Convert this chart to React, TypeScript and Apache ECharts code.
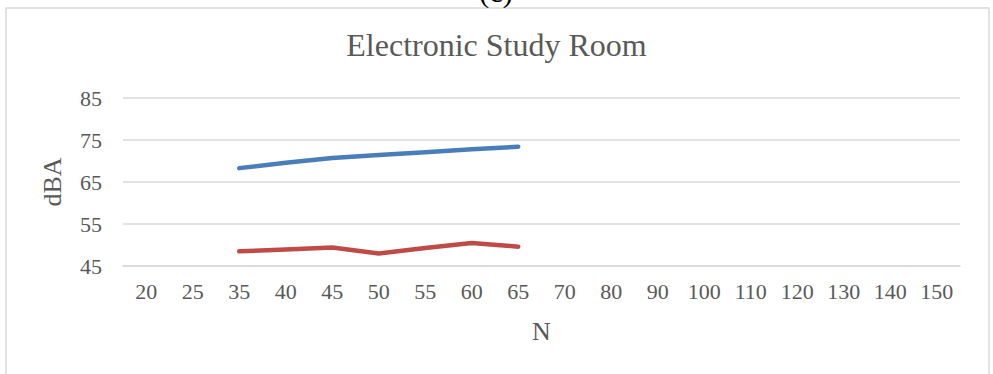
import React, { useEffect, useRef } from "react";
import * as echarts from "echarts";

// Number of occupants (N) along the x axis
const categories = ["20", "25", "35", "40", "45", "50", "55", "60", "65", "70", "80", "90", "100", "110", "120", "130", "140", "150"];

// Sound levels in dBA; null where no measurement exists
const upperSeries = [null, null, 68.3, 69.6, 70.7, 71.4, 72.1, 72.8, 73.4, null, null, null, null, null, null, null, null, null];
const lowerSeries = [null, null, 48.5, 48.9, 49.4, 48.0, 49.3, 50.5, 49.6, null, null, null, null, null, null, null, null, null];

const yTicks = { min: 45, max: 85, interval: 10 };

const FONT = "'Liberation Serif', 'Times New Roman', serif";
const TEXT = "#595959";

export default function App() {
  const ref = useRef<HTMLDivElement>(null);

  useEffect(() => {
    if (!ref.current) return;
    const chart = echarts.init(ref.current, null, { renderer: "svg" });
    chart.setOption({
      animation: false,
      backgroundColor: "#ffffff",
      title: {
        text: "Electronic Study Room",
        left: "center",
        top: 24,
        textStyle: { fontFamily: FONT, fontSize: 32, fontWeight: "normal", color: TEXT },
      },
      graphic: [
        {
          type: "rect",
          shape: { x: 6, y: 8, width: 983, height: 400 },
          style: { fill: "none", stroke: "#d9d9d9", lineWidth: 1.5 },
          silent: true,
        },
        {
          type: "text",
          x: 496,
          y: 6,
          style: {
            text: "(c)",
            font: `30px ${FONT}`,
            fill: "#000000",
            align: "center",
            verticalAlign: "bottom",
          },
          silent: true,
        },
      ],
      grid: { left: 123, right: 33, top: 98, bottom: 108, containLabel: false },
      xAxis: {
        type: "category",
        data: categories,
        boundaryGap: true,
        name: "N",
        nameLocation: "middle",
        nameGap: 52,
        nameTextStyle: { fontFamily: FONT, fontSize: 26, color: TEXT },
        axisLine: { show: true, lineStyle: { color: "#d9d9d9", width: 1.5 } },
        axisTick: { show: false },
        axisLabel: { fontFamily: FONT, fontSize: 22, color: TEXT, margin: 14, interval: 0 },
        splitLine: { show: false },
      },
      yAxis: {
        type: "value",
        min: yTicks.min,
        max: yTicks.max,
        interval: yTicks.interval,
        name: "dBA",
        nameLocation: "middle",
        nameGap: 58,
        nameRotate: 90,
        nameTextStyle: { fontFamily: FONT, fontSize: 26, color: TEXT },
        axisLine: { show: false },
        axisTick: { show: false },
        axisLabel: { fontFamily: FONT, fontSize: 22, color: TEXT, margin: 21 },
        splitLine: { show: true, lineStyle: { color: "#d9d9d9", width: 1.5 } },
      },
      series: [
        {
          type: "line",
          data: upperSeries,
          showSymbol: false,
          connectNulls: false,
          lineStyle: { color: "#4a7ebb", width: 4.5, cap: "round", join: "round" },
          itemStyle: { color: "#4a7ebb" },
        },
        {
          type: "line",
          data: lowerSeries,
          showSymbol: false,
          connectNulls: false,
          lineStyle: { color: "#be4b48", width: 4.5, cap: "round", join: "round" },
          itemStyle: { color: "#be4b48" },
        },
      ],
    });
    return () => chart.dispose();
  }, []);

  return (
    <div
      ref={ref}
      style={{ position: "fixed", left: 0, top: 0, width: 993, height: 374 }}
    />
  );
}
